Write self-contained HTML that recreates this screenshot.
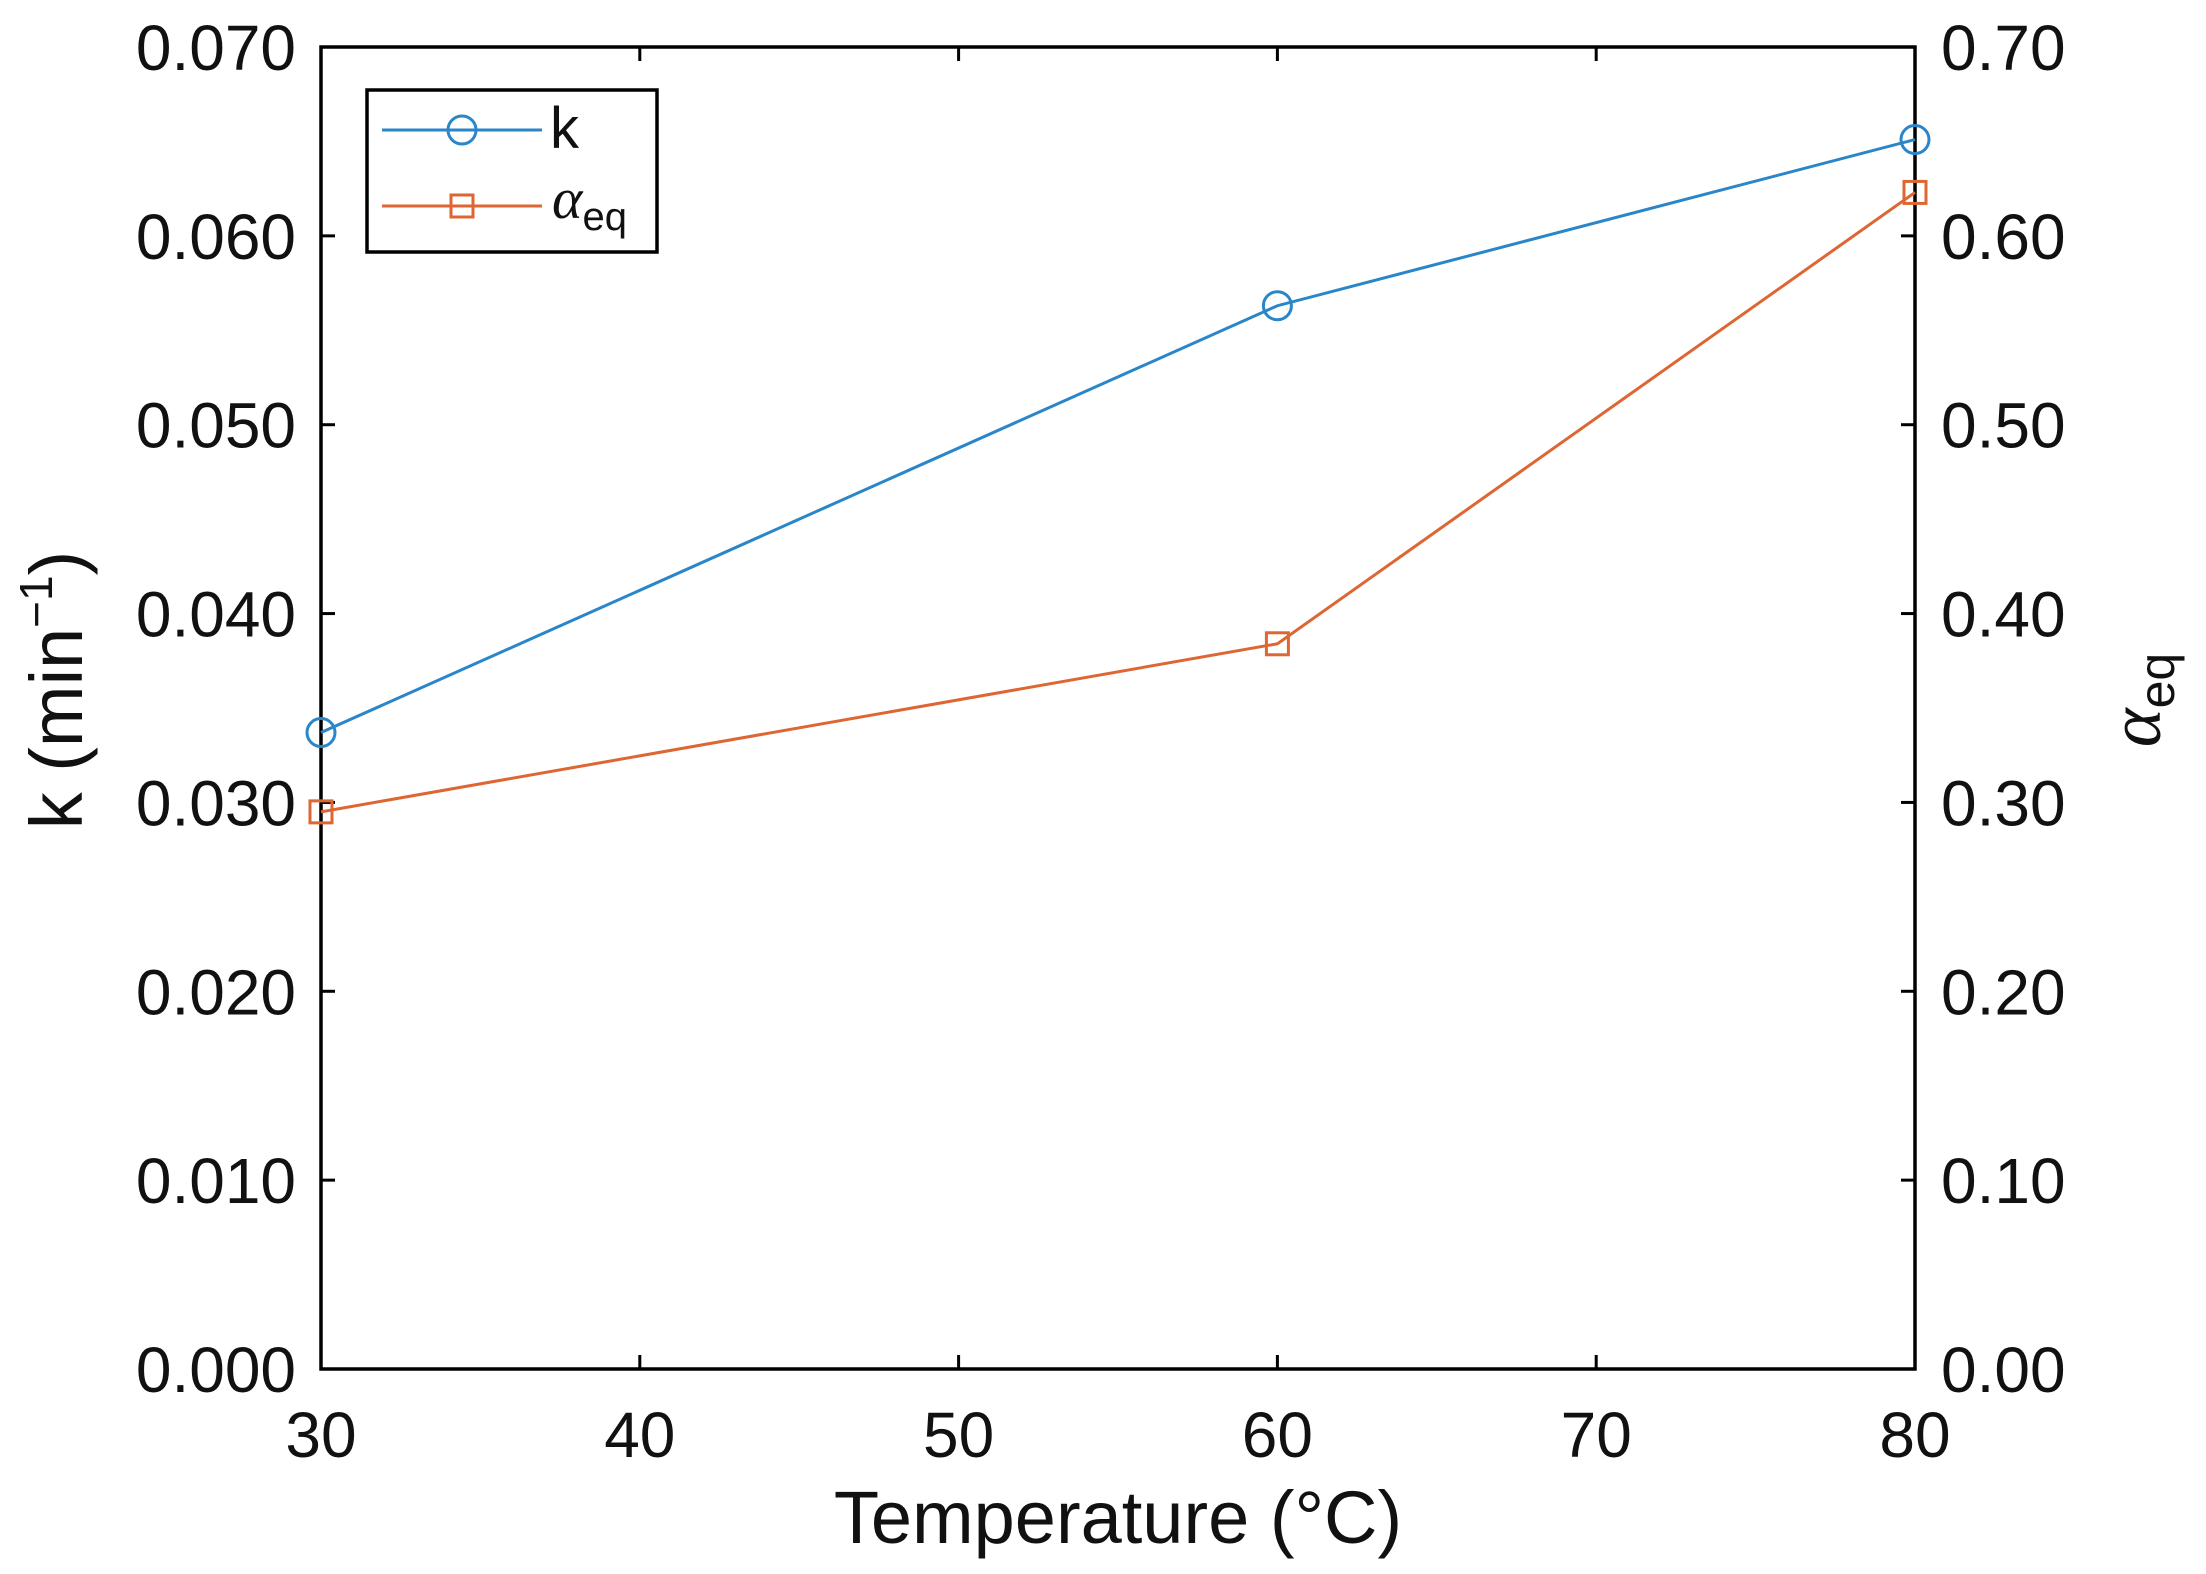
<!DOCTYPE html>
<html><head><meta charset="utf-8"><style>
html,body{margin:0;padding:0;background:#fff}
svg{display:block;font-family:"Liberation Sans",Arial,sans-serif}
</style></head><body>
<svg id="chart" width="2206" height="1574" viewBox="0 0 2206 1574">
<g id="axes"></g>
<g id="series"></g>
<g id="legend"></g>
</svg>
<script>
const temps = [30, 60, 80];
const kValues = [0.0337, 0.0563, 0.0651];
const alphaValues = [0.295, 0.384, 0.623];
const xTicks = [30, 40, 50, 60, 70, 80];
const yLeftTicks = ["0.000","0.010","0.020","0.030","0.040","0.050","0.060","0.070"];
const yRightTicks = ["0.00","0.10","0.20","0.30","0.40","0.50","0.60","0.70"];

const L=321, R=1915, T=47, B=1369;
const NS="http://www.w3.org/2000/svg";
const xS = v => L + (v-30)/50*(R-L);
const yL = v => B - v/0.07*(B-T);
const yR = v => B - v/0.7*(B-T);
function mk(tag, attrs, parent, text){
  const e=document.createElementNS(NS,tag);
  for(const k in attrs) e.setAttribute(k, attrs[k]);
  if(text!==undefined) e.textContent=text;
  parent.appendChild(e); return e;
}
const ax=document.getElementById('axes');
const se=document.getElementById('series');
const lg=document.getElementById('legend');

xTicks.forEach(v=>{
  const x=xS(v);
  let t=mk('line',{x1:x,x2:x,y1:B,y2:B-14,stroke:'#000','stroke-width':3},ax);
  
  
  let t2=mk('line',{x1:x,x2:x,y1:T,y2:T+14,stroke:'#000','stroke-width':3},ax);
  
  
  let l=mk('text',{x:x,y:B+88,'font-size':64,'text-anchor':'middle',fill:'#111'},ax,String(v));
  
  
});
yLeftTicks.forEach((s)=>{
  const y=yL(parseFloat(s));
  let t=mk('line',{x1:L,x2:L+14,y1:y,y2:y,stroke:'#000','stroke-width':3},ax);
  
  
  let l=mk('text',{x:296,y:y+23,'font-size':64,'text-anchor':'end',fill:'#111'},ax,s);
  
  
});
yRightTicks.forEach((s)=>{
  const y=yR(parseFloat(s));
  let t=mk('line',{x1:R,x2:R-14,y1:y,y2:y,stroke:'#000','stroke-width':3},ax);
  
  
  let l=mk('text',{x:1941,y:y+23,'font-size':64,'text-anchor':'start',fill:'#111'},ax,s);
  
  
});
let box=mk('rect',{x:L,y:T,width:R-L,height:B-T,fill:'none',stroke:'#000','stroke-width':3.5},ax);



let xt=mk('text',{x:(L+R)/2,y:1543,'font-size':74,'text-anchor':'middle',fill:'#111'},ax,'Temperature (°C)');


let ylt=mk('text',{transform:'translate(82,690) rotate(-90)','font-size':74,'text-anchor':'middle',fill:'#111'},ax);


ylt.innerHTML='k  (min<tspan font-size="46" dy="-30">−1</tspan><tspan dy="30">)</tspan>';
let yrt=mk('text',{transform:'translate(2160,700) rotate(-90)','font-size':74,'text-anchor':'middle',fill:'#111'},ax);


yrt.innerHTML='<tspan font-style="italic" font-family="Liberation Serif, serif">α</tspan><tspan font-size="50" dy="14">eq</tspan>';

const blue='#2a86c8', orange='#dd6633';
let kl=mk('polyline',{points:temps.map((t,i)=>xS(t)+','+yL(kValues[i])).join(' '),fill:'none',stroke:blue,'stroke-width':3},se);


let al=mk('polyline',{points:temps.map((t,i)=>xS(t)+','+yR(alphaValues[i])).join(' '),fill:'none',stroke:orange,'stroke-width':3},se);


temps.forEach((t,i)=>{
  let c=mk('circle',{cx:xS(t),cy:yL(kValues[i]),r:14,fill:'none',stroke:blue,'stroke-width':3},se);
  
  
  let s=mk('rect',{x:xS(t)-11,y:yR(alphaValues[i])-11,width:22,height:22,fill:'none',stroke:orange,'stroke-width':3},se);
  
  
});

let lb=mk('rect',{x:367,y:90,width:290,height:162,fill:'#fff',stroke:'#000','stroke-width':3.5},lg);


let l1=mk('line',{x1:382,x2:542,y1:130,y2:130,stroke:blue,'stroke-width':3},lg);


let c1=mk('circle',{cx:462,cy:130,r:14,fill:'none',stroke:blue,'stroke-width':3},lg);


let t1=mk('text',{x:550,y:148,'font-size':58,fill:'#111'},lg,'k');


let l2=mk('line',{x1:382,x2:542,y1:206,y2:206,stroke:orange,'stroke-width':3},lg);


let s2=mk('rect',{x:451,y:195,width:22,height:22,fill:'none',stroke:orange,'stroke-width':3},lg);


let t2=mk('text',{x:552,y:218,'font-size':58,fill:'#111'},lg);


t2.innerHTML='<tspan font-style="italic" font-family="Liberation Serif, serif">α</tspan><tspan font-size="40" dy="12">eq</tspan>';
</script>
</body></html>
